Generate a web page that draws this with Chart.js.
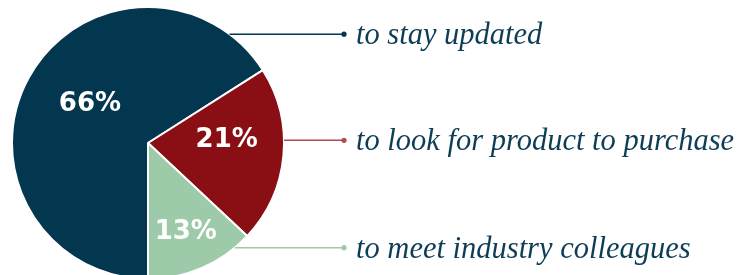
<!DOCTYPE html>
<html>
<head>
<meta charset="utf-8">
<script src="https://cdn.jsdelivr.net/npm/chart.js@4.4.1/dist/chart.umd.min.js"></script>
<style>
  html, body { margin: 0; padding: 0; background: #fff; overflow: hidden; }
  #wrap { width: 741px; height: 275px; overflow: hidden; }
</style>
</head>
<body>
<div id="wrap"><canvas id="pie" width="741" height="285"></canvas></div>
<script>
const categories = ['to stay updated', 'to look for product to purchase', 'to meet industry colleagues'];
const shares = [66, 21, 13];
const sliceColors = ['#03364f', '#8a0f14', '#9dcaa9'];
const lineColors = ['#03364f', '#b24a52', '#9dcaa9'];

// where the leader lines sit, as a fraction of the radius below/above centre
const leaderY = [-0.8, -0.02, 0.77];
// tweak for the percent labels: [distance as fraction of radius, angle shift in degrees]
const pctPlace = [[0.52, 6], [0.58, -9], [0.7, 0]];

const calloutPlugin = {
  id: 'callouts',
  afterDatasetsDraw(chart) {
    const ctx = chart.ctx;
    const arcs = chart.getDatasetMeta(0).data;
    const cx = arcs[0].x, cy = arcs[0].y, r = arcs[0].outerRadius;

    // percent labels inside the slices
    ctx.save();
    ctx.fillStyle = '#fff';
    ctx.font = 'bold 26px "DejaVu Sans"';
    ctx.textAlign = 'center';
    ctx.textBaseline = 'middle';
    arcs.forEach((a, i) => {
      const mid = (a.startAngle + a.endAngle) / 2 + pctPlace[i][1] * Math.PI / 180;
      const d = r * pctPlace[i][0];
      ctx.fillText(shares[i] + '%', cx + Math.cos(mid) * d, cy + Math.sin(mid) * d + 2);
    });
    ctx.restore();

    // leader lines, dots and category text on the right
    const dotX = cx + r + 60;
    ctx.save();
    categories.forEach((name, i) => {
      const dy = leaderY[i] * r;
      const x0 = cx + Math.sqrt(r * r - dy * dy);
      const y = cy + dy;
      ctx.strokeStyle = lineColors[i];
      ctx.lineWidth = 1.5;
      ctx.beginPath();
      ctx.moveTo(x0, y);
      ctx.lineTo(dotX, y);
      ctx.stroke();
      ctx.fillStyle = lineColors[i];
      ctx.beginPath();
      ctx.arc(dotX, y, 2.6, 0, Math.PI * 2);
      ctx.fill();

      ctx.fillStyle = '#0e3d56';
      ctx.font = 'italic 30.5px "Liberation Serif"';
      ctx.textAlign = 'left';
      ctx.textBaseline = 'middle';
      ctx.fillText(name, dotX + 12, y + 2);
    });
    ctx.restore();
  }
};

new Chart(document.getElementById('pie'), {
  type: 'pie',
  data: {
    labels: categories,
    datasets: [{
      data: shares,
      backgroundColor: sliceColors,
      borderColor: '#ffffff',
      borderWidth: 2
    }]
  },
  options: {
    responsive: false,
    animation: false,
    rotation: 180,
    layout: { padding: { left: 11, top: 6, right: 456, bottom: 5 } },
    plugins: {
      legend: { display: false },
      tooltip: { enabled: false }
    }
  },
  plugins: [calloutPlugin]
});
</script>
</body>
</html>
